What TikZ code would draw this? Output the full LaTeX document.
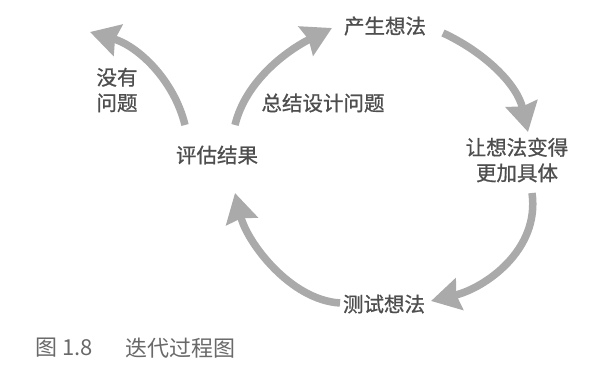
\documentclass[tikz,border=0pt]{standalone}
\usepackage{fontspec}
\setmainfont{Noto Sans CJK SC}
\newfontfamily\stagefont[FakeBold=0.8]{Noto Sans CJK SC}
\usetikzlibrary{arrows.meta}

\definecolor{arrowgray}{RGB}{170,170,170}
\definecolor{labelgray}{RGB}{78,78,78}
\definecolor{captiongray}{RGB}{105,105,105}

\tikzset{
  steplabel/.style={inner sep=0pt, text=labelgray, align=center,
    font=\stagefont\fontsize{20.5}{25.5}\selectfont},
  captionlabel/.style={inner sep=0pt, text=captiongray, anchor=west,
    font=\fontsize{22}{26}\selectfont},
  cyclearrow/.style={draw=arrowgray, line width=7.5pt,
    -{Stealth[length=29pt, width=32pt, inset=3pt, fill=arrowgray]}},
}

\begin{document}
\begin{tikzpicture}[x=1pt, y=-1pt]
  \useasboundingbox[fill=white] (0,0) rectangle (614,385);

  % stages of the cycle
  \node[steplabel] (idea)     at (385,26)  {产生想法};
  \node[steplabel] (concrete) at (517,160) {让想法变得\\更加具体};
  \node[steplabel] (test)     at (384,304) {测试想法};
  \node[steplabel] (eval)     at (217,155) {评估结果};
  \node[steplabel] (summary)  at (323,103) {总结设计问题};
  \node[steplabel] (noissue)  at (117,90)  {没有\\问题};

  % arrow end points around the stages
  \coordinate (a0) at (185,125);  \coordinate (a1) at (90,32);
  \coordinate (b0) at (235,125);  \coordinate (b1) at (332,28);
  \coordinate (c0) at (443,33);   \coordinate (c1) at (528,132);
  \coordinate (d0) at (532,193);  \coordinate (d1) at (431,301);
  \coordinate (e0) at (340,303);  \coordinate (e1) at (235,193);

  % exit: no problems left
  \draw[cyclearrow] (a0) .. controls (174,80) and (138,46) .. (a1);
  % evaluate -> new idea
  \draw[cyclearrow] (b0) .. controls (246,80) and (288,50) .. (b1);
  % idea -> make concrete
  \draw[cyclearrow] (c0) .. controls (484,52) and (517,84) .. (c1);
  % concrete -> test
  \draw[cyclearrow] (d0) .. controls (540,250) and (485,288) .. (d1);
  % test -> evaluate
  \draw[cyclearrow] (e0) .. controls (290,300) and (247,242) .. (e1);

  % figure caption
  \node[captionlabel] (capnum)  at (35,348)  {图 1.8};
  \node[captionlabel] (captext) at (125,348) {迭代过程图};
\end{tikzpicture}
\end{document}
